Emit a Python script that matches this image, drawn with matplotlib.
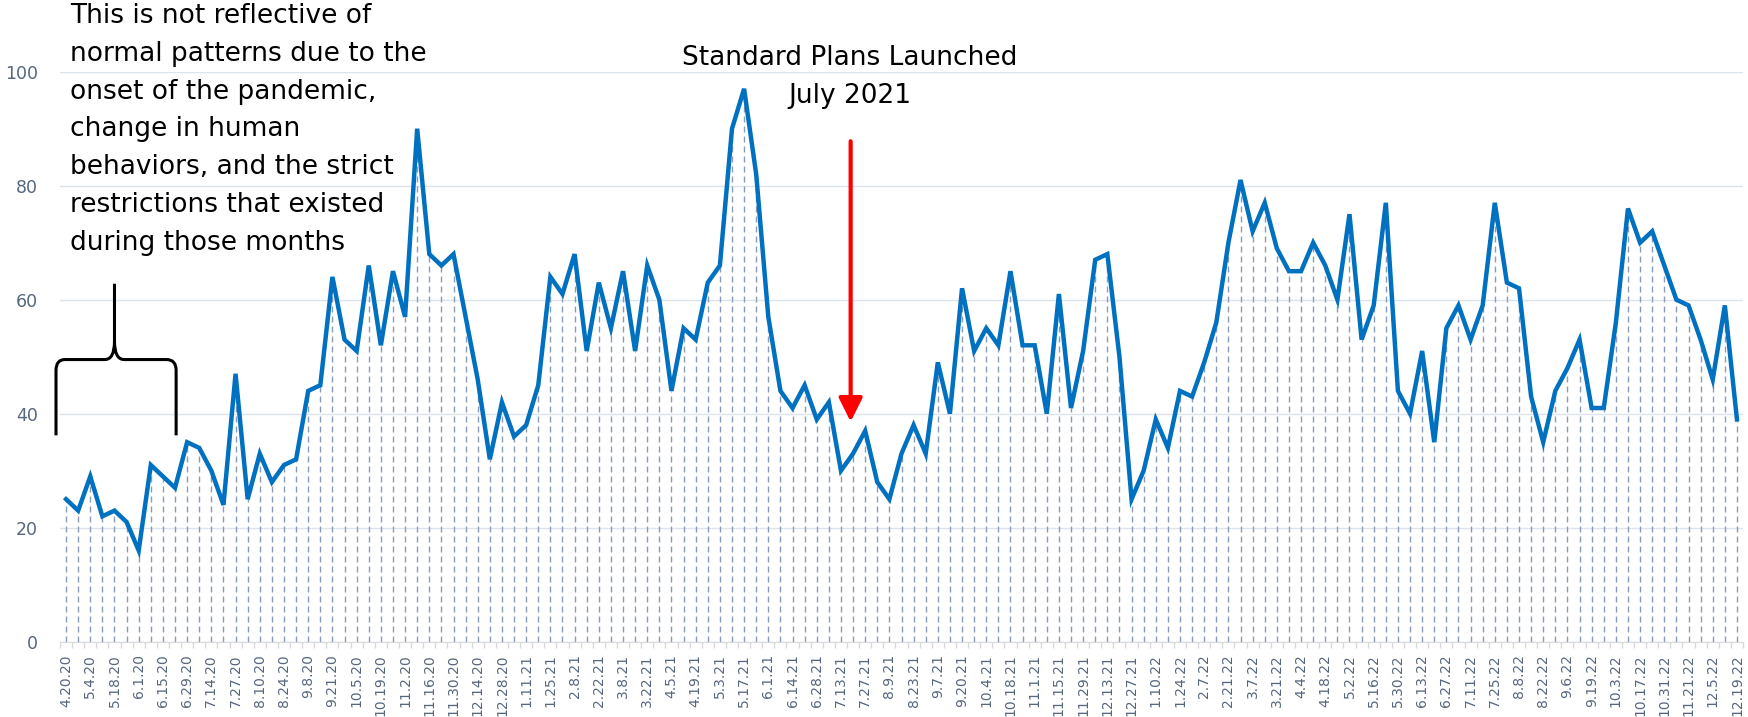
import matplotlib.pyplot as plt
from matplotlib.path import Path
from matplotlib.patches import PathPatch
import numpy as np

# weekly values, 4.20.20 .. 12.19.22
values = [25, 23, 29, 22, 23, 21, 16, 31, 29, 27, 35, 34, 30, 24, 47, 25, 33, 28, 31, 32, 44, 45, 64,
          53, 51, 66, 52, 65, 57, 90, 68, 66, 68, 57, 46, 32, 42, 36, 38, 45, 64, 61, 68, 51, 63, 55, 65,
          51, 66, 60, 44, 55, 53, 63, 66, 90, 97, 82, 57, 44, 41, 45, 39, 42, 30, 33, 37, 28, 25, 33,
          38, 33, 49, 40, 62, 51, 55, 52, 65, 52, 52, 40, 61, 41, 51, 67, 68, 50, 25, 30, 39, 34, 44,
          43, 49, 56, 70, 81, 72, 77, 69, 65, 65, 70, 66, 60, 75, 53, 59, 77, 44, 40, 51, 35, 55, 59,
          53, 59, 77, 63, 62, 43, 35, 44, 48, 53, 41, 41, 56, 76, 70, 72, 66, 60, 59, 53, 46, 59, 39]

# every other week is labelled
tick_labels = ['4.20.20', '5.4.20', '5.18.20', '6.1.20', '6.15.20', '6.29.20', '7.14.20', '7.27.20',
               '8.10.20', '8.24.20', '9.8.20', '9.21.20', '10.5.20', '10.19.20', '11.2.20', '11.16.20',
               '11.30.20', '12.14.20', '12.28.20', '1.11.21', '1.25.21', '2.8.21', '2.22.21', '3.8.21',
               '3.22.21', '4.5.21', '4.19.21', '5.3.21', '5.17.21', '6.1.21', '6.14.21', '6.28.21',
               '7.13.21', '7.27.21', '8.9.21', '8.23.21', '9.7.21', '9.20.21', '10.4.21', '10.18.21',
               '11.1.21', '11.15.21', '11.29.21', '12.13.21', '12.27.21', '1.10.22', '1.24.22', '2.7.22',
               '2.21.22', '3.7.22', '3.21.22', '4.4.22', '4.18.22', '5.2.22', '5.16.22', '5.30.22',
               '6.13.22', '6.27.22', '7.11.22', '7.25.22', '8.8.22', '8.22.22', '9.6.22', '9.19.22',
               '10.3.22', '10.17.22', '10.31.22', '11.21.22', '12.5.22', '12.19.22']

note_lines = ['This is not reflective of', 'normal patterns due to the', 'onset of the pandemic,',
              'change in human', 'behaviors, and the strict', 'restrictions that existed',
              'during those months']
launch_lines = ['Standard Plans Launched', 'July 2021']

W, H = 1748, 717
fig = plt.figure(figsize=(W / 100, H / 100), dpi=100)
ax = fig.add_axes([60 / W, 1 - 641.7 / H, 1683 / W, 570 / H])

x = np.arange(len(values))
label_color = '#56667F'

ax.vlines(x, 0, values, colors='#8A9BB6', linewidth=1, linestyles=(0, (4.3, 2.9)), zorder=2)
ax.plot(x, values, color='#0070C0', linewidth=3.2, solid_joinstyle='miter', zorder=3)

ax.set_xlim(-0.5, len(values) - 0.5)
ax.set_ylim(0, 100)
ax.set_yticks(np.arange(0, 101, 20))
ax.yaxis.grid(True, color='#DCE3EE', linewidth=1)
ax.set_axisbelow(True)

ax.set_xticks(x[::2])
ax.set_xticklabels(tick_labels, rotation=90, fontsize=10, color=label_color)
ax.set_xticks(np.arange(-0.5, len(values)), minor=True)
ax.tick_params(axis='x', which='major', length=0, pad=9)
ax.tick_params(axis='x', which='minor', length=4, color='#D9D9D9', width=1)
ax.tick_params(axis='y', length=0, pad=16, labelsize=12.5, labelcolor=label_color)

for s in ['top', 'right', 'left']:
    ax.spines[s].set_visible(False)
ax.spines['bottom'].set_color('#D9D9D9')

# red arrow at the July 2021 launch
ax.annotate('', xy=(64.8, 38.6), xytext=(64.8, 87.8),
            arrowprops=dict(arrowstyle='-|>,head_length=0.4,head_width=0.2', color='#FF0000',
                            lw=3, mutation_scale=36, shrinkA=0, shrinkB=0), annotation_clip=False)

# brace over the first weeks
verts = [(-0.83, 36.2), (-0.83, 47.6), (-0.83, 49.5), (-0.1, 49.5), (3.2, 49.5), (4.0, 49.5), (4.0, 52.7),
         (4.0, 62.8),
         (4.0, 52.7), (4.0, 49.5), (4.8, 49.5), (8.3, 49.5), (9.09, 49.5), (9.09, 47.6), (9.09, 36.2)]
codes = [Path.MOVETO, Path.LINETO, Path.CURVE3, Path.CURVE3, Path.LINETO, Path.CURVE3, Path.CURVE3,
         Path.LINETO,
         Path.MOVETO, Path.CURVE3, Path.CURVE3, Path.LINETO, Path.CURVE3, Path.CURVE3, Path.LINETO]
ax.add_patch(PathPatch(Path(verts, codes), fill=False, edgecolor='black', lw=2.2, clip_on=False, zorder=4))


def px_text(px, py, s, **kw):
    fig.text(px / W, 1 - py / H, s, va='baseline', family='DejaVu Sans', color='black', **kw)


for i, line in enumerate(note_lines):
    px_text(70, 23 + i * 37.8, line, fontsize=19)
for i, line in enumerate(launch_lines):
    px_text(850, 65 + i * 38, line, fontsize=19, ha='center')

fig.savefig('out.png', dpi=100)
